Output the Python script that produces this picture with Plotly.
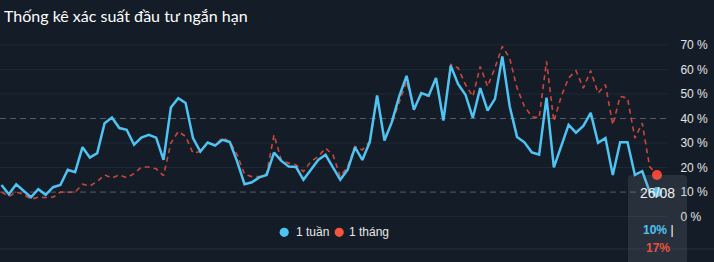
import plotly.graph_objects as go

# ---- data ----
week = [12.9, 9.1, 13.2, 10.5, 7.9, 11.2, 8.9, 12.0, 12.9, 19.1,
        18.1, 28.3, 24.1, 25.9, 38.1, 40.4, 36.1, 35.4, 29.3, 32.2,
        33.3, 32.2, 23.1, 44.5, 48.3, 46.3, 32.0, 26.5, 30.2, 29.0,
        31.3, 30.4, 22.4, 13.2, 14.0, 16.0, 17.0, 26.1, 22.7, 20.4,
        20.2, 15.0, 19.3, 23.1, 25.2, 19.8, 15.0, 19.1, 28.2, 23.1,
        30.4, 49.4, 31.0, 38.5, 49.0, 57.4, 43.6, 50.4, 49.3, 56.5,
        39.2, 61.5, 54.0, 49.7, 40.3, 52.4, 43.2, 48.0, 65.3, 45.0,
        32.5, 30.3, 26.2, 25.3, 48.5, 20.1, 28.8, 37.4, 34.2, 37.0,
        42.3, 30.1, 32.0, 17.0, 30.3, 30.3, 17.0, 18.5, 10.2, 10.0]

month = [10.0, 8.2, 10.0, 9.1, 7.1, 7.9, 7.8, 7.9, 10.0, 10.0,
         10.0, 13.2, 12.5, 14.3, 17.0, 15.7, 17.0, 15.9, 17.5, 20.2,
         20.2, 19.5, 16.7, 30.0, 34.7, 32.7, 25.9, 26.5, 30.0, 29.3,
         32.2, 30.6, 25.2, 17.3, 16.3, 16.3, 17.5, 33.3, 23.1, 21.8,
         21.1, 18.4, 22.4, 24.5, 27.9, 25.2, 16.3, 20.4, 28.6, 27.2,
         30.6, 48.3, 32.0, 38.0, 46.9, 55.1, 44.2, 49.7, 49.0, 56.5,
         39.5, 62.0, 60.6, 53.8, 49.0, 61.2, 53.1, 60.6, 69.4, 64.6,
         52.4, 44.9, 40.8, 40.2, 63.3, 38.8, 49.0, 56.5, 59.5, 52.4,
         59.5, 50.4, 53.8, 37.4, 49.0, 48.3, 32.0, 38.1, 20.4, 17.0]

series_names = ["1 tuần", "1 tháng"]
tick_vals = [0, 10, 20, 30, 40, 50, 60, 70]
tick_text = [f"{v} %" for v in tick_vals]
solid_levels = [0, 20, 30, 50, 60, 70]
dashed_levels = [10, 40]
last_label = "26/08"
title_text = "Thống kê xác suất đầu tư ngắn hạn"

# ---- style ----
W, H = 714, 262
BG = "#131c27"
BLUE = "#4fc3f2"
RED_LINE = "#c9473a"
RED_DOT = "#f4432f"
RED_LEG = "#f4553c"
RED_TEXT = "#e8503c"
GRID = "#1f2a36"
DASH = "#555c66"
FONT = "Liberation Sans, Arial, sans-serif"

PLOT_R = 667  # px right edge of plot area
x = list(range(len(week)))

fig = go.Figure()
fig.add_trace(go.Scatter(x=x, y=month, mode="lines", name=series_names[1], showlegend=False,
                         hoverinfo="skip", line=dict(color=RED_LINE, width=1.6, dash="5px,4px")))
fig.add_trace(go.Scatter(x=x, y=week, mode="lines", name=series_names[0], showlegend=False,
                         hoverinfo="skip", line=dict(color=BLUE, width=2.5)))
fig.add_trace(go.Scatter(x=[x[-1]], y=[week[-1]], mode="markers", showlegend=False, hoverinfo="skip",
                         marker=dict(color=BLUE, size=10)))
fig.add_trace(go.Scatter(x=[x[-1]], y=[month[-1]], mode="markers", showlegend=False, hoverinfo="skip",
                         marker=dict(color=RED_DOT, size=10)))

shapes = []
for v in solid_levels:
    shapes.append(dict(type="line", xref="paper", yref="y", x0=0, x1=PLOT_R / W, y0=v, y1=v,
                       line=dict(color=GRID, width=1), layer="below"))
for v in dashed_levels:
    shapes.append(dict(type="line", xref="paper", yref="y", x0=0, x1=PLOT_R / W, y0=v, y1=v,
                       line=dict(color=DASH, width=1, dash="6px,4px"), layer="below"))
# bottom separator
shapes.append(dict(type="line", xref="paper", yref="paper", x0=0, x1=1, y0=13 / H, y1=13 / H,
                   line=dict(color="#25303c", width=1), layer="below"))
# tooltip box with rounded top corners
bx0, bx1, by0, by1 = 628 / W, 687 / W, 0.0, 1 - 175 / H
rx, ry = 4 / W, 4 / H
path = (f"M {bx0},{by0} L {bx0},{by1 - ry} Q {bx0},{by1} {bx0 + rx},{by1} "
        f"L {bx1 - rx},{by1} Q {bx1},{by1} {bx1},{by1 - ry} L {bx1},{by0} Z")
shapes.append(dict(type="path", xref="paper", yref="paper", path=path,
                   fillcolor="rgba(140,150,160,0.17)", line=dict(width=0), layer="above"))

# custom legend (circle + label)
leg_y = 232.3
leg_items = [(284.2, 294, series_names[0], BLUE), (339.2, 347.3, series_names[1], RED_LEG)]
r = 4.6
annotations = []
for cx, tx, name, col in leg_items:
    shapes.append(dict(type="circle", xref="paper", yref="paper",
                       x0=(cx - r) / W, x1=(cx + r) / W, y0=1 - (leg_y + r) / H, y1=1 - (leg_y - r) / H,
                       fillcolor=col, line=dict(width=0)))
    annotations.append(dict(text=name, xref="paper", yref="paper", x=tx / W, y=1 - leg_y / H,
                            showarrow=False, xanchor="left", yanchor="middle",
                            font=dict(family=FONT, size=12, color="#e8e8e8")))

annotations += [
    dict(text=last_label, xref="paper", yref="paper", x=657.5 / W, y=1 - 192.5 / H,
         showarrow=False, xanchor="center", yanchor="middle",
         font=dict(family=FONT, size=14, color="#f2f2f2")),
    dict(text=f"<b><span style='color:{BLUE}'>{week[-1]:.0f}%</span></b> <span style='color:#ffffff'>|</span>",
         xref="paper", yref="paper", x=658 / W, y=1 - 229.5 / H,
         showarrow=False, xanchor="center", yanchor="middle",
         font=dict(family=FONT, size=12, color=BLUE)),
    dict(text=f"<b>{month[-1]:.0f}%</b>", xref="paper", yref="paper", x=658 / W, y=1 - 247.5 / H,
         showarrow=False, xanchor="center", yanchor="middle",
         font=dict(family=FONT, size=12, color=RED_TEXT)),
]

fig.update_layout(
    template="none",
    width=W, height=H,
    margin=dict(l=0, r=0, t=0, b=0, pad=0),
    paper_bgcolor=BG, plot_bgcolor=BG,
    title=dict(text=title_text, x=4 / W, xanchor="left", y=1 - 16 / H, yanchor="middle",
               font=dict(family="Lato, sans-serif", size=16, color="#ffffff")),
    xaxis=dict(domain=[0, PLOT_R / W], range=[-0.2, 90.36], visible=False, fixedrange=True,
               automargin=False),
    yaxis=dict(domain=[13 / H, 1 - 40 / H], range=[-13.2, 72], side="right", automargin=False,
               tickvals=tick_vals, ticktext=tick_text, showgrid=False, zeroline=False,
               showline=False, ticks="outside", ticklen=10, tickcolor="rgba(0,0,0,0)",
               tickfont=dict(family=FONT, size=12, color="#e4e4e4")),
    showlegend=False,
    shapes=shapes,
    annotations=annotations,
    hovermode=False,
)

fig.write_html("out.html")
